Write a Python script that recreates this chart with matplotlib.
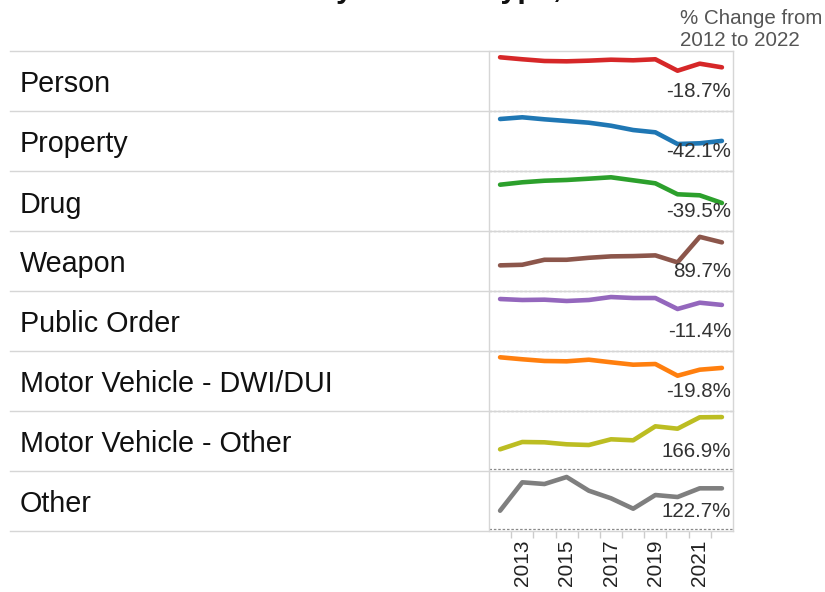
import matplotlib.pyplot as plt
from matplotlib.lines import Line2D

plt.rcParams['font.family'] = ['Liberation Sans', 'DejaVu Sans']

# data (index, 2012 = 100)
years = list(range(2012, 2023))
offenses = ["Person", "Property", "Drug", "Weapon", "Public Order",
            "Motor Vehicle - DWI/DUI", "Motor Vehicle - Other", "Other"]

person = [100, 96.3, 93.1, 92.5, 93.7, 95.5, 94.4, 96.3, 75.0, 88.1, 81.3]
property_ = [100, 103.3, 99.4, 96.2, 92.9, 87.1, 78.8, 74.4, 51.9, 53.3, 57.9]
drug = [100, 105.2, 108.6, 110.2, 113.0, 116.0, 109.5, 103.0, 79.3, 77.1, 60.5]
weapon = [100, 102.3, 121.8, 121.8, 129.5, 135.0, 136.2, 138.9, 111.6, 211.2, 189.7]
public_order = [100, 98.1, 98.7, 96.2, 98.1, 103.8, 101.9, 101.9, 80.8, 92.9, 88.6]
dwi_dui = [100, 96.3, 93.1, 92.5, 95.5, 90.7, 86.2, 87.5, 65.7, 76.9, 80.2]
mv_other = [100, 137.8, 136.2, 125.9, 122.2, 151.8, 146.6, 219.1, 206.7, 265.7, 266.9]
other = [100, 255.6, 246.3, 284.7, 209.6, 168.0, 111.0, 186.0, 175.0, 222.7, 222.7]

series = [person, property_, drug, weapon, public_order, dwi_dui, mv_other, other]
colors = ['#d62728', '#1f77b4', '#2ca02c', '#8c564b', '#9467bd', '#ff7f0e', '#bcbd22', '#7f7f7f']
# per-row y ranges (each row has its own axis)
ylims = [(0, 111.7), (0, 115.4), (0, 129.6), (0, 234), (0, 115.4), (0, 111.7),
         (-12.4, 298.4), (-11.2, 317.6)]

W, H = 825, 592
fig = plt.figure(figsize=(W / 100, H / 100), dpi=100)


def fx(x):
    return x / W


def fy(y):
    return 1 - y / H


row_top = 51
row_h = 60
col_left = 489
col_right = 733
grid_col = '#d6d6d6'

for i, (name, vals) in enumerate(zip(offenses, series)):
    top = row_top + i * row_h
    ax = fig.add_axes([fx(col_left), fy(top + row_h), (col_right - col_left) / W, row_h / H])
    ax.patch.set_alpha(0)
    ax.axhline(0, color='#8a8a8a', lw=0.9, ls=(0, (2, 1.5)), clip_on=False, zorder=1)
    ax.plot(years, vals, color=colors[i], lw=3.3, solid_capstyle='round',
            solid_joinstyle='round', zorder=2)
    ax.set_xlim(2011.5, 2022.5)
    ax.set_ylim(*ylims[i])
    for s in ax.spines.values():
        s.set_visible(False)
    ax.set_yticks([])
    pct = (vals[-1] / vals[0] - 1) * 100
    ax.text(0.992, 0.325, f"{pct:.1f}%", transform=ax.transAxes, ha='right', va='center',
            fontsize=14.8, color='#333333', zorder=3)
    fig.text(fx(20), fy(top + row_h / 2 + 3.5), name, ha='left', va='center', fontsize=20.7,
             color='#111111')
    if i < len(offenses) - 1:
        ax.set_xticks([])
    else:
        ax.set_xticks(years[1:-1:2])
        ax.set_xticklabels([str(y) for y in years[1:-1:2]], rotation=90, fontsize=15,
                           color='#222222')
        ax.set_xticks([y + 0.5 for y in years[:-1]], minor=True)
        ax.tick_params(axis='x', which='major', length=0, pad=6)
        ax.tick_params(axis='x', which='minor', length=5, color='#cccccc', width=1)

# row borders and column frame
for k in range(len(offenses) + 1):
    y = fy(row_top + k * row_h)
    fig.add_artist(Line2D([fx(10), fx(col_right)], [y, y], color=grid_col, lw=1))
for x in (col_left, col_right):
    fig.add_artist(Line2D([fx(x), fx(x)], [fy(row_top), fy(row_top + len(offenses) * row_h)],
                          color=grid_col, lw=1))

# header for the % change column
fig.text(fx(680), fy(18), "% Change from", ha='left', va='center', fontsize=14.8, color='#555555')
fig.text(fx(680), fy(41), f"{years[0]} to {years[-1]}", ha='left', va='center',
         fontsize=14.8, color='#555555')

# title, mostly cut off at the top edge
fig.text(fx(202), fy(-3), "Arrests by Offense Type, 2012-2022", ha='left', va='baseline',
         fontsize=22, fontweight='bold', color='#111111')

fig.savefig('out.png', dpi=100)
